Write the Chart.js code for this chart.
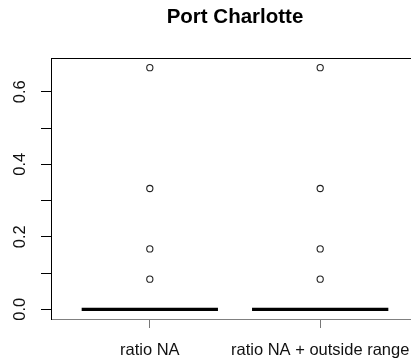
<!DOCTYPE html>
<html>
<head>
<meta charset="utf-8">
<script src="https://cdn.jsdelivr.net/npm/chart.js@4.4.0/dist/chart.umd.min.js"></script>
<style>
  html, body { margin: 0; padding: 0; background: #fff; overflow: hidden; }
  canvas { display: block; }
</style>
</head>
<body>
<canvas id="boxChart" width="430" height="364"></canvas>
<script>
// du lieu doc tu hinh
const categories = ["ratio NA", "ratio NA + outside range"];
const medians = [0, 0];
const outliers = [
  [0.0833, 0.1667, 0.3333, 0.6667],
  [0.0833, 0.1667, 0.3333, 0.6667]
];
const yTicks = [0, 0.1, 0.2, 0.3, 0.4, 0.5, 0.6];
const yLabels = ["0.0", "", "0.2", "", "0.4", "", "0.6"];
const titleText = "Port Charlotte";

const FONT = "'Liberation Sans', Arial, sans-serif";
const boxHalf = 0.4;

// diem outlier
const outlierPoints = [];
outliers.forEach((list, i) => {
  list.forEach(v => outlierPoints.push({ x: i + 1, y: v }));
});

// duong median (null de ngat giua cac nhom)
const medianPoints = [];
medians.forEach((m, i) => {
  medianPoints.push({ x: i + 1 - boxHalf, y: m });
  medianPoints.push({ x: i + 1 + boxHalf, y: m });
  medianPoints.push({ x: i + 1, y: null });
});

// vien tren cua khung
const topBorder = {
  id: "topBorder",
  afterDraw(chart) {
    const a = chart.chartArea;
    const c = chart.ctx;
    c.save();
    c.strokeStyle = "#000";
    c.lineWidth = 1;
    c.beginPath();
    c.moveTo(a.left, Math.round(a.top) + 0.5);
    c.lineTo(a.right, Math.round(a.top) + 0.5);
    c.stroke();
    c.restore();
  }
};

const ctx = document.getElementById("boxChart").getContext("2d");
const myChart = new Chart(ctx, {
  type: "scatter",
  data: {
    datasets: [
      {
        type: "line",
        label: "median",
        data: medianPoints,
        borderColor: "#000",
        borderWidth: 3.3,
        borderCapStyle: "butt",
        pointRadius: 0,
        spanGaps: false,
        fill: false
      },
      {
        label: "outliers",
        data: outlierPoints,
        pointStyle: "circle",
        pointRadius: 3.1,
        borderWidth: 1.1,
        borderColor: "#222",
        backgroundColor: "rgba(255,255,255,0)"
      }
    ]
  },
  plugins: [topBorder],
  options: {
    responsive: false,
    animation: false,
    layout: { padding: { left: 0, right: 11, top: 0, bottom: 0 } },
    plugins: {
      legend: { display: false },
      tooltip: { enabled: false },
      title: {
        display: true,
        text: titleText,
        fullSize: false,
        color: "#000",
        font: { family: FONT, size: 20.5, weight: "bold" },
        padding: { top: 5, bottom: 28.4 }
      }
    },
    scales: {
      x: {
        type: "linear",
        min: 0.42,
        max: 2.58,
        afterBuildTicks: (scale) => {
          scale.ticks = categories.map((c, i) => ({ value: i + 1 }));
        },
        afterFit: (scale) => { scale.height = 45; },
        grid: {
          drawOnChartArea: false,
          drawTicks: true,
          tickLength: 9,
          tickColor: "#777"
        },
        border: { display: true, color: "#808080", width: 1 },
        ticks: {
          color: "#111",
          padding: 13,
          maxRotation: 0,
          autoSkip: false,
          font: { family: FONT, size: 16.5 },
          callback: (v) => categories[Math.round(v) - 1]
        }
      },
      y: {
        min: -0.0267,
        max: 0.6933,
        afterBuildTicks: (scale) => {
          scale.ticks = yTicks.map(v => ({ value: v }));
        },
        afterFit: (scale) => { scale.width = 51; },
        grid: {
          drawOnChartArea: false,
          drawTicks: true,
          tickLength: 10,
          tickColor: "#000"
        },
        border: { display: true, color: "#000", width: 1 },
        ticks: {
          color: "#111",
          padding: 9.5,
          minRotation: 90,
          maxRotation: 90,
          crossAlign: "center",
          autoSkip: false,
          font: { family: FONT, size: 16.5 },
          callback: (v, i) => yLabels[i]
        }
      }
    }
  }
});
</script>
</body>
</html>
